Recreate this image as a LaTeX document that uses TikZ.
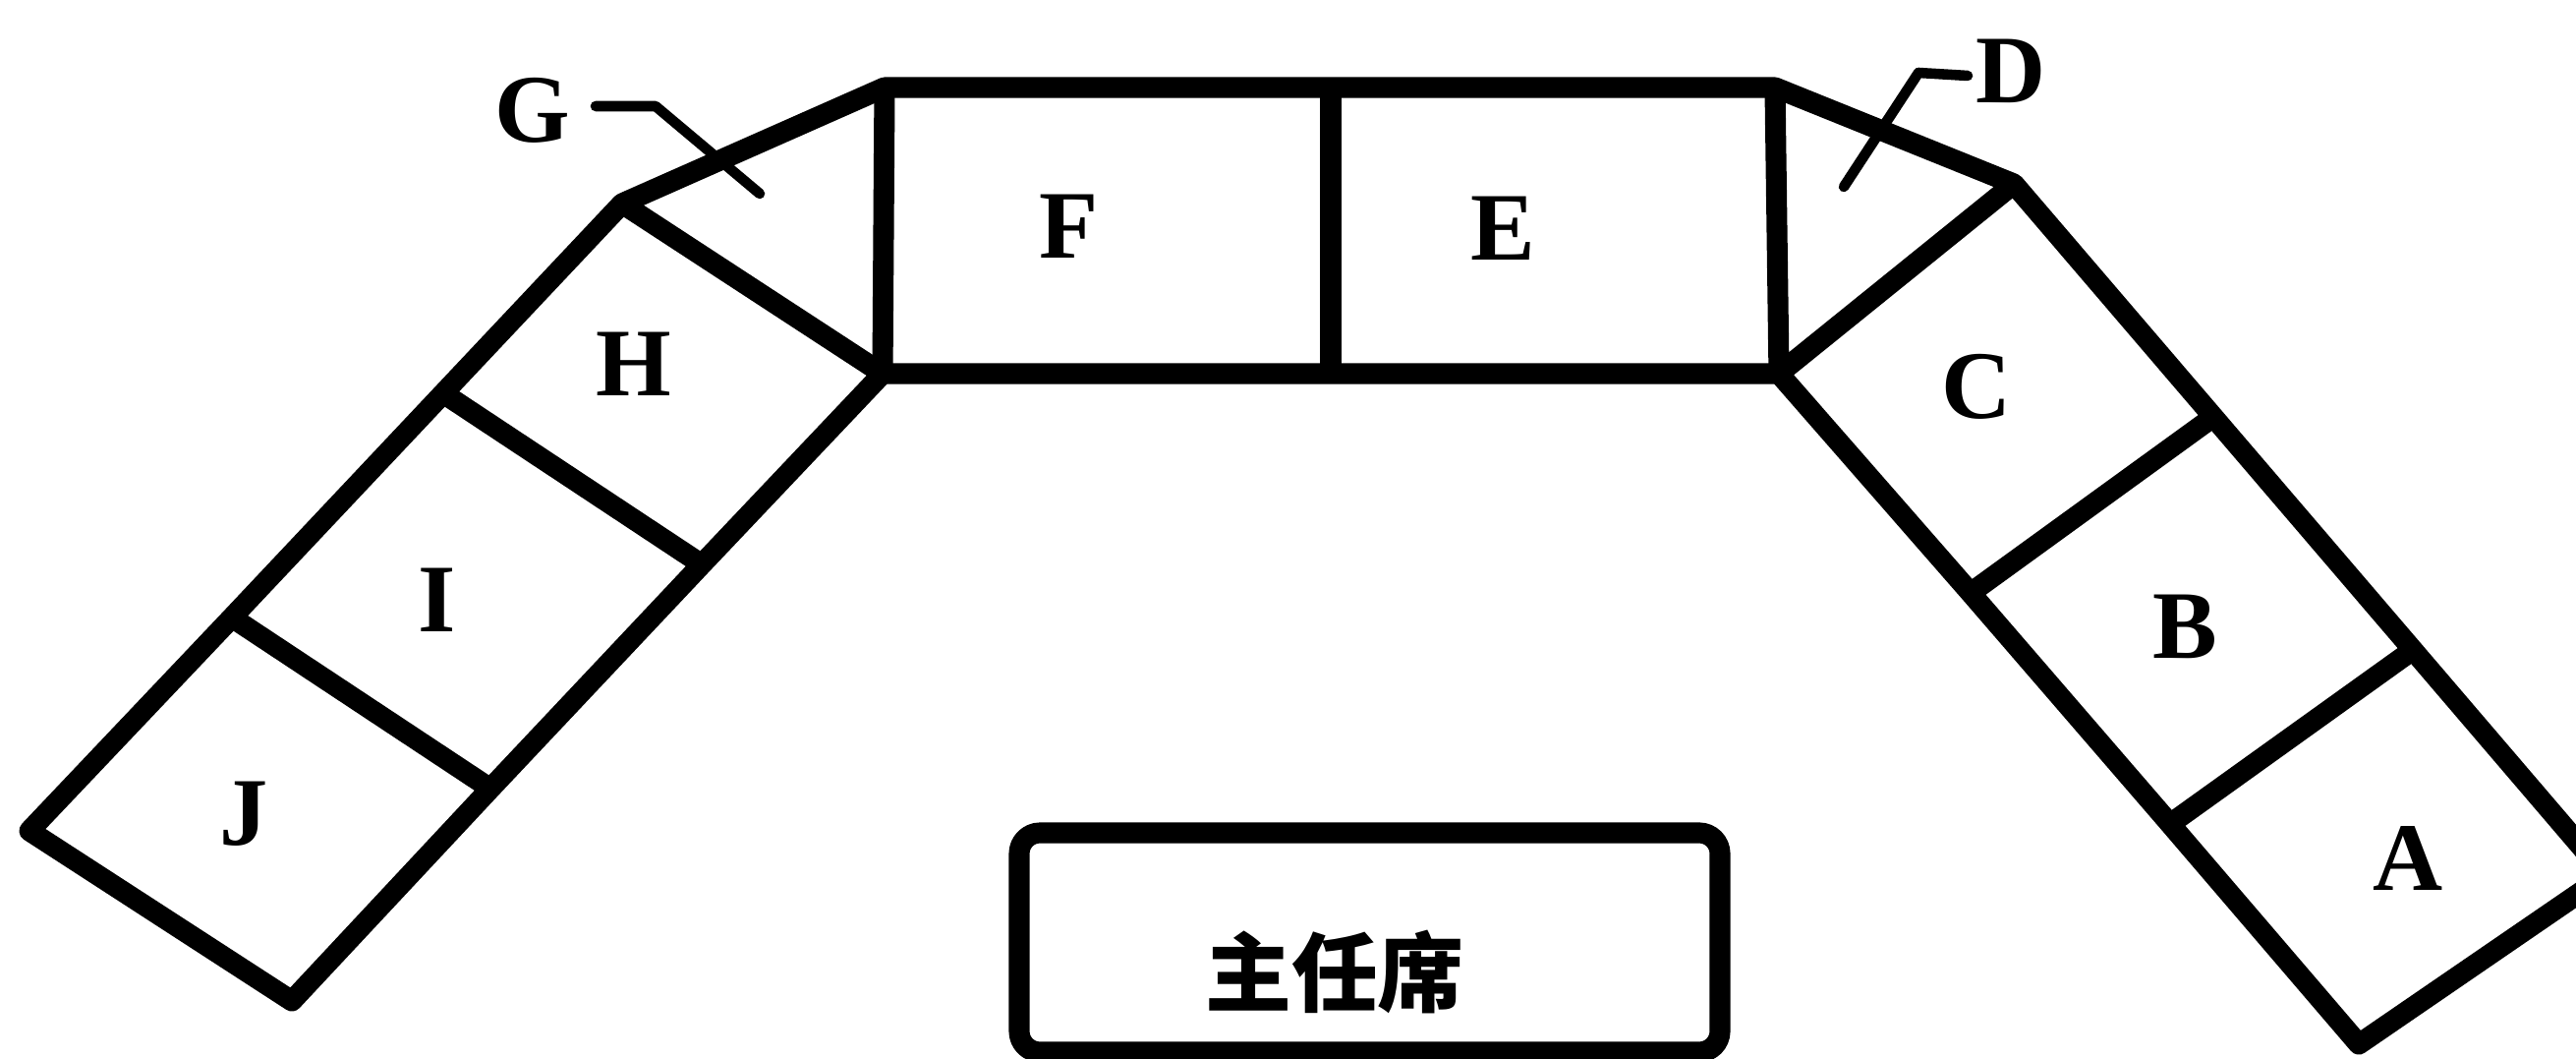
\documentclass[tikz,border=0pt]{standalone}
\usepackage{fontspec}
\newfontfamily\cjk{Noto Sans CJK SC}
\newfontfamily\seatfont{Liberation Serif}

\begin{document}
\begin{tikzpicture}[x=0.01cm, y=-0.01cm, line width=6pt, line join=round,
    seat/.style={font=\seatfont\bfseries\fontsize{28}{30}\selectfont},
    leader/.style={line width=3pt, line cap=round}]

  \clip (0,0) rectangle (2621,1077);

  % centre table (F, E)
  \coordinate (fTL) at (900,89);
  \coordinate (fBL) at (898,380);
  \coordinate (mT)  at (1354,89);
  \coordinate (mB)  at (1354,380);
  \coordinate (eTR) at (1806,89);
  \coordinate (eBR) at (1810,380);

  % left wing (G, H, I, J)
  \coordinate (gC) at (633,207);
  \coordinate (hO) at (451,400);
  \coordinate (hI) at (714,574);
  \coordinate (iO) at (236,628);
  \coordinate (iI) at (499,802);
  \coordinate (jL) at (30,845);
  \coordinate (jB) at (297,1018);

  % right wing (D, C, B, A)
  \coordinate (dC) at (2049,187);
  \coordinate (cO) at (2252,424);
  \coordinate (cI) at (2005,603);
  \coordinate (bO) at (2455,661);
  \coordinate (bI) at (2208,838);
  \coordinate (aR) at (2651,890);
  \coordinate (aB) at (2400,1062);

  % outline
  \draw (jB) -- (jL) -- (iO) -- (hO) -- (gC) -- (fTL) -- (eTR) -- (dC)
        -- (cO) -- (bO) -- (aR) -- (aB) -- (bI) -- (cI) -- (eBR) -- (fBL)
        -- (hI) -- (iI) -- cycle;

  % seat dividers
  \draw (fTL) -- (fBL);
  \draw (mT) -- (mB);
  \draw (eTR) -- (eBR);
  \draw (gC) -- (fBL);
  \draw (dC) -- (eBR);
  \draw (hO) -- (hI);
  \draw (iO) -- (iI);
  \draw (cO) -- (cI);
  \draw (bO) -- (bI);

  % seat letters
  \node[seat] (labA) at (2450,873) {A};
  \node[seat] (labB) at (2223,637) {B};
  \node[seat] (labC) at (2011,393) {C};
  \node[seat] (labD) at (2046,72) {D};
  \node[seat] (labE) at (1529,232) {E};
  \node[seat] (labF) at (1088,230) {F};
  \node[seat] (labG) at (542,112) {G};
  \node[seat] (labH) at (645,370) {H};
  \node[seat] (labI) at (445,610) {I};
  \node[seat] (labJ) at (248,828) {J};

  % leaders to the corner seats
  \coordinate (gEnd) at (773,197);
  \coordinate (dEnd) at (1876,190);
  \draw[leader] (606,108) -- (667,108) -- (gEnd);
  \draw[leader] (2002,77) -- (1952,74) -- (dEnd);

  % chairman's seat
  \draw[rounded corners=6pt] (1037,847) rectangle (1750,1070);
  \node[font=\cjk\bfseries\fontsize{25}{28}\selectfont] (chair) at (1358,988) {主任席};

\end{tikzpicture}
\end{document}
